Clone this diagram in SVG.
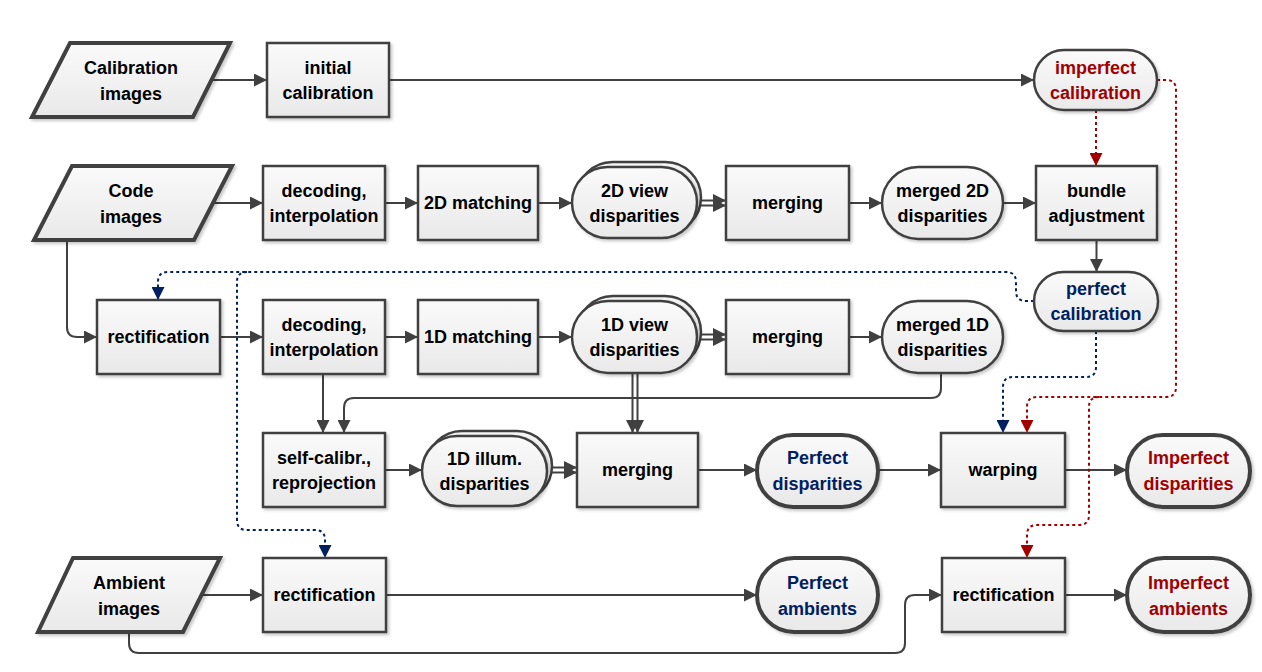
<svg xmlns="http://www.w3.org/2000/svg" width="1262" height="672" viewBox="0 0 1262 672">
<style>
  text { font-family: "Liberation Sans", Arial, sans-serif; font-weight: bold; font-size: 18px; text-anchor: middle; fill: #000; }
  .blue { fill: #002060; }
  .red { fill: #a00000; }
  .box { fill: url(#gf); stroke: #404040; stroke-width: 2.5; filter: url(#sh); }
  .term { fill: url(#gf); stroke: #404040; stroke-width: 4; filter: url(#sh); }
  .back { fill: #f4f4f4; stroke: #404040; stroke-width: 2.5; }
  .con { fill: none; stroke: #404040; stroke-width: 2; }
  .dblue { fill: none; stroke: #002060; stroke-width: 2; stroke-dasharray: 3 3; }
  .dred { fill: none; stroke: #a00000; stroke-width: 2; stroke-dasharray: 3 3; }
</style>
<defs>
  <linearGradient id="gf" x1="0" y1="0" x2="0" y2="1">
    <stop offset="0" stop-color="#fafafa"/>
    <stop offset="1" stop-color="#e9e9e9"/>
  </linearGradient>
  <filter id="sh" x="-10%" y="-10%" width="130%" height="140%">
    <feDropShadow dx="2" dy="2" stdDeviation="1.5" flood-color="#000" flood-opacity="0.22"/>
  </filter>
  <marker id="ah" viewBox="0 0 13 13" refX="13" refY="6.5" markerWidth="13" markerHeight="13" markerUnits="userSpaceOnUse" orient="auto">
    <path d="M0,0 L13,6.5 L0,13 z" fill="#404040"/>
  </marker>
  <marker id="ahb" viewBox="0 0 13 13" refX="13" refY="6.5" markerWidth="13" markerHeight="13" markerUnits="userSpaceOnUse" orient="auto">
    <path d="M0,0 L13,6.5 L0,13 z" fill="#002060"/>
  </marker>
  <marker id="ahr" viewBox="0 0 13 13" refX="13" refY="6.5" markerWidth="13" markerHeight="13" markerUnits="userSpaceOnUse" orient="auto">
    <path d="M0,0 L13,6.5 L0,13 z" fill="#a00000"/>
  </marker>
</defs>

<g id="connectors">
  <!-- row 1 -->
  <path class="con" d="M212,80 H267" marker-end="url(#ah)"/>
  <path class="con" d="M389,80 H1034" marker-end="url(#ah)"/>
  <!-- row 2 -->
  <path class="con" d="M213,203 H263" marker-end="url(#ah)"/>
  <path class="con" d="M385,203 H418" marker-end="url(#ah)"/>
  <path class="con" d="M538,203 H572" marker-end="url(#ah)"/>
  <path class="con" d="M697,200.5 H726" marker-end="url(#ah)"/>
  <path class="con" d="M699,205.5 H726" marker-end="url(#ah)"/>
  <path class="con" d="M849,203 H882" marker-end="url(#ah)"/>
  <path class="con" d="M1003,203 H1036" marker-end="url(#ah)"/>
  <path class="con" d="M1096.5,240 V272" marker-end="url(#ah)"/>
  <!-- code images to rectification -->
  <path class="con" d="M67,240 V327 Q67,337 77,337 H97" marker-end="url(#ah)"/>
  <!-- row 3 -->
  <path class="con" d="M220,337 H263" marker-end="url(#ah)"/>
  <path class="con" d="M385,337 H418" marker-end="url(#ah)"/>
  <path class="con" d="M538,337 H572" marker-end="url(#ah)"/>
  <path class="con" d="M697,334.5 H726" marker-end="url(#ah)"/>
  <path class="con" d="M699,339.5 H726" marker-end="url(#ah)"/>
  <path class="con" d="M849,337 H882" marker-end="url(#ah)"/>
  <!-- down to row 4 -->
  <path class="con" d="M323,374 V433" marker-end="url(#ah)"/>
  <path class="con" d="M941,373 V388 Q941,398 931,398 H354 Q344,398 344,408 V433" marker-end="url(#ah)"/>
  <path class="con" d="M632.5,373 V433" marker-end="url(#ah)"/>
  <path class="con" d="M637.5,373 V433" marker-end="url(#ah)"/>
  <!-- row 4 -->
  <path class="con" d="M385,470 H422" marker-end="url(#ah)"/>
  <path class="con" d="M547,467.5 H577" marker-end="url(#ah)"/>
  <path class="con" d="M549,472.5 H577" marker-end="url(#ah)"/>
  <path class="con" d="M698,470 H757" marker-end="url(#ah)"/>
  <path class="con" d="M878,470 H941" marker-end="url(#ah)"/>
  <path class="con" d="M1065,470 H1127" marker-end="url(#ah)"/>
  <!-- row 5 -->
  <path class="con" d="M202,595 H263" marker-end="url(#ah)"/>
  <path class="con" d="M386,595 H757" marker-end="url(#ah)"/>
  <path class="con" d="M1065,595 H1127" marker-end="url(#ah)"/>
  <path class="con" d="M129,632 V643 Q129,653 139,653 H895 Q905,653 905,643 V605 Q905,595 915,595 H942" marker-end="url(#ah)"/>
  <!-- red dotted -->
  <path class="dred" d="M1096,110 V166" marker-end="url(#ahr)"/>
  <path class="dred" d="M1157,80 H1166 Q1176,80 1176,90 V387 Q1176,397 1166,397 H1037 Q1027,397 1027,407 V433" marker-end="url(#ahr)"/>
  <path class="dred" d="M1099,397 Q1089,397 1089,407 V515 Q1089,525 1079,525 H1037 Q1027,525 1027,535 V558" marker-end="url(#ahr)"/>
  <!-- blue dotted -->
  <path class="dblue" d="M1034,301 H1026 Q1016,301 1016,291 V282 Q1016,272 1006,272 H168 Q158,272 158,282 V300" marker-end="url(#ahb)"/>
  <path class="dblue" d="M247,272 Q237,272 237,282 V520 Q237,530 247,530 H315 Q325,530 325,540 V558" marker-end="url(#ahb)"/>
  <path class="dblue" d="M1096,331 V367 Q1096,377 1086,377 H1013 Q1003,377 1003,387 V433" marker-end="url(#ahb)"/>
</g>

<!-- Row 1 -->
<g id="calibration-images">
  <polygon points="70,43 230,43 193,117 32,117" fill="url(#gf)" stroke="#404040" stroke-width="4" stroke-linejoin="miter" filter="url(#sh)"/>
  <text x="131" y="74">Calibration</text>
  <text x="131" y="100">images</text>
</g>
<g id="initial-calibration">
  <rect class="box" x="267" y="43" width="122" height="74"/>
  <text x="328" y="74">initial</text>
  <text x="328" y="99">calibration</text>
</g>
<g id="imperfect-calibration">
  <rect class="box" x="1034" y="50" width="123" height="60" rx="30"/>
  <text class="red" x="1095.5" y="74">imperfect</text>
  <text class="red" x="1095.5" y="99">calibration</text>
</g>

<!-- Row 2 -->
<g id="code-images">
  <polygon points="72,166 232,166 194,240 34,240" fill="url(#gf)" stroke="#404040" stroke-width="4" filter="url(#sh)"/>
  <text x="131" y="197">Code</text>
  <text x="131" y="223">images</text>
</g>
<g id="decoding-1">
  <rect class="box" x="263" y="166" width="122" height="74"/>
  <text x="324" y="197">decoding,</text>
  <text x="324" y="222">interpolation</text>
</g>
<g id="matching-2d">
  <rect class="box" x="418" y="166" width="120" height="74"/>
  <text x="478" y="209">2D matching</text>
</g>
<g id="view-disparities-2d">
  <rect class="back" x="577" y="162" width="124" height="71" rx="35.5"/>
  <rect class="box" x="572" y="167" width="125" height="71" rx="35.5"/>
  <text x="634.5" y="197">2D view</text>
  <text x="634.5" y="222">disparities</text>
</g>
<g id="merging-2d">
  <rect class="box" x="726" y="166" width="123" height="74"/>
  <text x="787.5" y="209">merging</text>
</g>
<g id="merged-2d">
  <rect class="box" x="882" y="167" width="121" height="72" rx="36"/>
  <text x="942.5" y="197">merged 2D</text>
  <text x="942.5" y="222">disparities</text>
</g>
<g id="bundle-adjustment">
  <rect class="box" x="1036" y="166" width="121" height="74"/>
  <text x="1096.5" y="197">bundle</text>
  <text x="1096.5" y="222">adjustment</text>
</g>

<!-- Row 3 -->
<g id="rectification-1">
  <rect class="box" x="97" y="300" width="123" height="74"/>
  <text x="158.5" y="343">rectification</text>
</g>
<g id="decoding-2">
  <rect class="box" x="263" y="300" width="122" height="74"/>
  <text x="324" y="331">decoding,</text>
  <text x="324" y="356">interpolation</text>
</g>
<g id="matching-1d">
  <rect class="box" x="418" y="300" width="120" height="74"/>
  <text x="478" y="343">1D matching</text>
</g>
<g id="view-disparities-1d">
  <rect class="back" x="577" y="296" width="124" height="72" rx="36"/>
  <rect class="box" x="572" y="301" width="125" height="72" rx="36"/>
  <text x="634.5" y="331">1D view</text>
  <text x="634.5" y="356">disparities</text>
</g>
<g id="merging-1d">
  <rect class="box" x="726" y="300" width="123" height="74"/>
  <text x="787.5" y="343">merging</text>
</g>
<g id="merged-1d">
  <rect class="box" x="882" y="301" width="121" height="72" rx="36"/>
  <text x="942.5" y="331">merged 1D</text>
  <text x="942.5" y="356">disparities</text>
</g>
<g id="perfect-calibration">
  <rect class="box" x="1034" y="272" width="124" height="59" rx="29.5"/>
  <text class="blue" x="1096" y="295">perfect</text>
  <text class="blue" x="1096" y="320">calibration</text>
</g>

<!-- Row 4 -->
<g id="self-calibration">
  <rect class="box" x="263" y="433" width="122" height="74"/>
  <text x="324" y="464">self-calibr.,</text>
  <text x="324" y="489">reprojection</text>
</g>
<g id="illum-disparities-1d">
  <rect class="back" x="427" y="431" width="125" height="70" rx="35"/>
  <rect class="box" x="422" y="436" width="125" height="70" rx="35"/>
  <text x="484.5" y="465">1D illum.</text>
  <text x="484.5" y="490">disparities</text>
</g>
<g id="merging-final">
  <rect class="box" x="577" y="433" width="121" height="74"/>
  <text x="637.5" y="476">merging</text>
</g>
<g id="perfect-disparities">
  <rect class="term" x="757" y="435" width="121" height="72" rx="36"/>
  <text class="blue" x="817.5" y="464">Perfect</text>
  <text class="blue" x="817.5" y="490">disparities</text>
</g>
<g id="warping">
  <rect class="box" x="941" y="433" width="124" height="74"/>
  <text x="1003" y="476">warping</text>
</g>
<g id="imperfect-disparities">
  <rect class="term" x="1127" y="435" width="123" height="72" rx="36"/>
  <text class="red" x="1188.5" y="464">Imperfect</text>
  <text class="red" x="1188.5" y="490">disparities</text>
</g>

<!-- Row 5 -->
<g id="ambient-images">
  <polygon points="73,558 220,558 183,632 38,632" fill="url(#gf)" stroke="#404040" stroke-width="4" filter="url(#sh)"/>
  <text x="129" y="589">Ambient</text>
  <text x="129" y="615">images</text>
</g>
<g id="rectification-2">
  <rect class="box" x="263" y="558" width="123" height="74"/>
  <text x="324.5" y="601">rectification</text>
</g>
<g id="perfect-ambients">
  <rect class="term" x="757" y="558" width="121" height="74" rx="37"/>
  <text class="blue" x="817.5" y="589">Perfect</text>
  <text class="blue" x="817.5" y="615">ambients</text>
</g>
<g id="rectification-3">
  <rect class="box" x="942" y="558" width="123" height="74"/>
  <text x="1003.5" y="601">rectification</text>
</g>
<g id="imperfect-ambients">
  <rect class="term" x="1127" y="558" width="123" height="74" rx="37"/>
  <text class="red" x="1188.5" y="589">Imperfect</text>
  <text class="red" x="1188.5" y="615">ambients</text>
</g>
</svg>
